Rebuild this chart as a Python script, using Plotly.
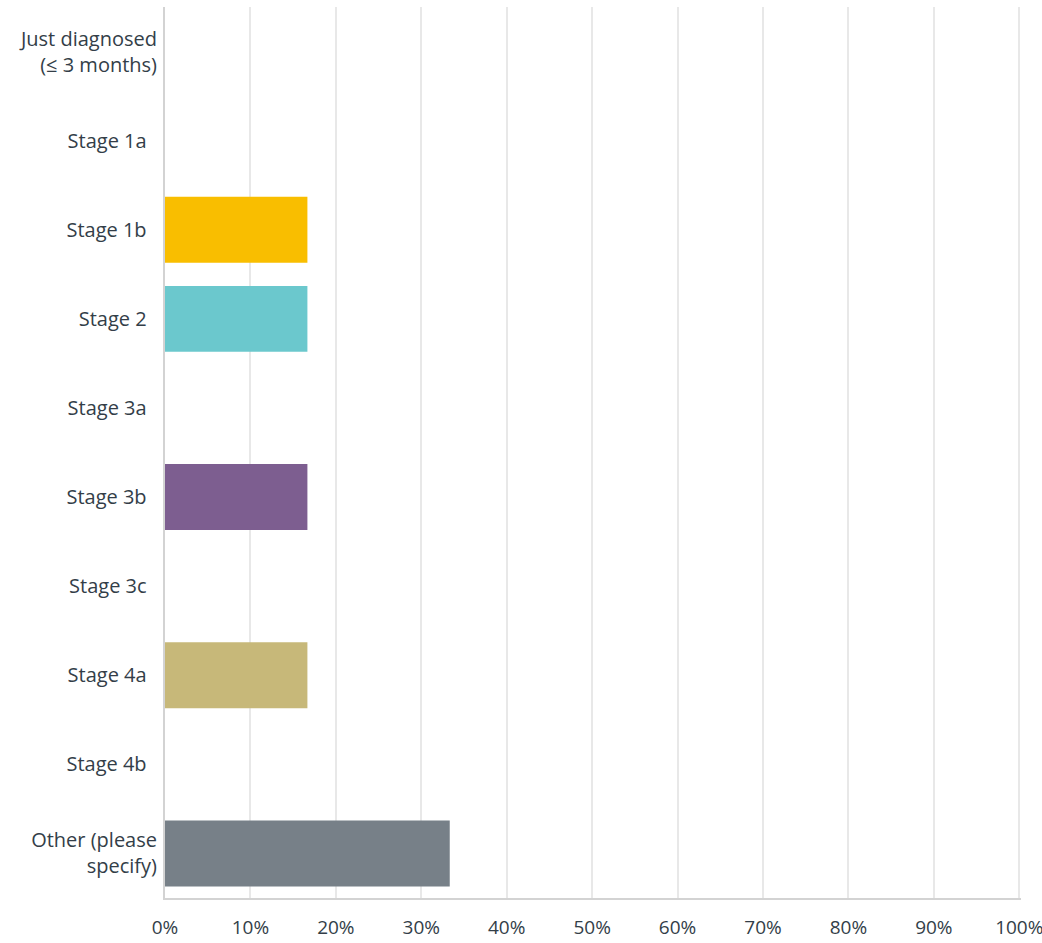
import plotly.graph_objects as go

categories = [
    "Just diagnosed<br>(≤ 3 months)",
    "Stage 1a\u00a0\u00a0",
    "Stage 1b\u00a0\u00a0",
    "Stage 2\u00a0\u00a0",
    "Stage 3a\u00a0\u00a0",
    "Stage 3b\u00a0\u00a0",
    "Stage 3c\u00a0\u00a0",
    "Stage 4a\u00a0\u00a0",
    "Stage 4b\u00a0\u00a0",
    "Other (please<br>specify)",
]
percent = [0, 0, 16.67, 16.67, 0, 16.67, 0, 16.67, 0, 33.33]
colors = [
    "#507CB6", "#F05B24", "#F9BE00", "#6BC8CD", "#FF9A00",
    "#7D5E90", "#D25F90", "#C7B879", "#00BF6F", "#778088",
]
x_ticks = list(range(0, 101, 10))
x_tick_labels = [f"{v}%" for v in x_ticks]

TEXT = "#333E48"
FONT = "Open Sans"

fig = go.Figure(
    go.Bar(
        x=percent,
        y=categories,
        orientation="h",
        marker=dict(color=colors, line=dict(width=0)),
        hoverinfo="x+y",
    )
)

fig.update_layout(
    width=1042,
    height=943,
    margin=dict(l=165, r=21, t=7, b=45),
    paper_bgcolor="white",
    plot_bgcolor="white",
    bargap=0.26,
    showlegend=False,
    font=dict(family=FONT, size=20, color=TEXT),
)

fig.update_xaxes(
    range=[0, 100.2],
    tickvals=x_ticks,
    ticktext=x_tick_labels,
    showgrid=True,
    gridcolor="#E8E8E8",
    gridwidth=1.5,
    zeroline=False,
    showline=True,
    linecolor="#D3D3D3",
    linewidth=2,
    ticks="",
    ticklabelstandoff=11,
    ticklabeloverflow="allow",
    automargin=False,
    tickfont=dict(family=FONT, size=19, color=TEXT),
    fixedrange=True,
)

fig.update_yaxes(
    categoryorder="array",
    categoryarray=categories,
    autorange="reversed",
    showgrid=False,
    zeroline=False,
    showline=True,
    linecolor="#D3D3D3",
    linewidth=2,
    ticks="",
    ticklabelstandoff=2,
    automargin=False,
    tickfont=dict(family=FONT, size=20, color=TEXT),
    fixedrange=True,
)

fig.write_html("out.html")
